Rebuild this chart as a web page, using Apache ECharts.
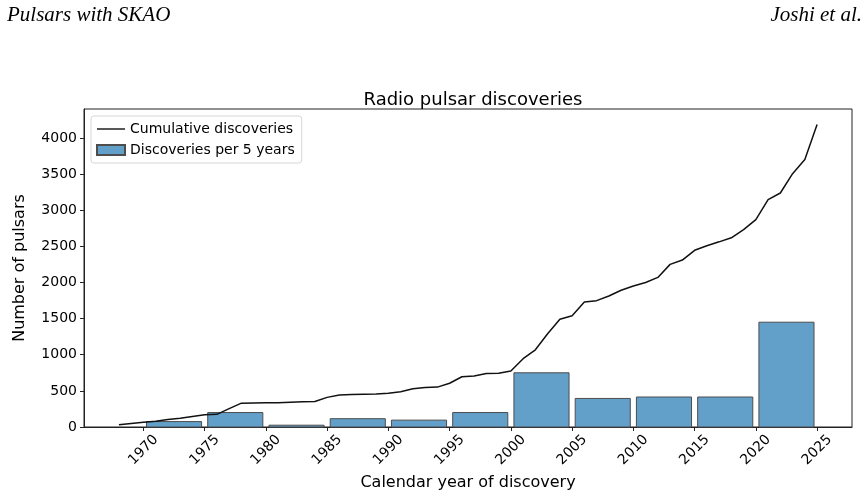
<!DOCTYPE html>
<html>
<head>
<meta charset="utf-8">
<script src="https://cdn.jsdelivr.net/npm/echarts@6/dist/echarts.min.js"></script>
<style>
  html, body { margin: 0; padding: 0; background: #fff; }
  #chart { width: 868px; height: 495px; }
</style>
</head>
<body>
<div id="chart"></div>
<script>
// cumulative discoveries, one point per year
const years = [1968, 1969, 1970, 1971, 1972, 1973, 1974, 1975, 1976, 1977, 1978, 1979,
  1980, 1981, 1982, 1983, 1984, 1985, 1986, 1987, 1988, 1989, 1990, 1991, 1992, 1993,
  1994, 1995, 1996, 1997, 1998, 1999, 2000, 2001, 2002, 2003, 2004, 2005, 2006, 2007,
  2008, 2009, 2010, 2011, 2012, 2013, 2014, 2015, 2016, 2017, 2018, 2019, 2020, 2021,
  2022, 2023, 2024, 2025];
const cumulative = [30, 50, 65, 80, 105, 120, 145, 170, 175, 255, 330, 333,
  335, 337, 343, 348, 352, 410, 442, 450, 454, 458, 466, 488, 530, 545,
  552, 605, 695, 705, 740, 745, 775, 945, 1068, 1290, 1490, 1540, 1730, 1748,
  1812, 1892, 1950, 2000, 2070, 2250, 2310, 2445, 2508, 2562, 2618, 2730, 2870, 3145,
  3238, 3505, 3700, 4185];

// discoveries per 5-year bin (bin start year)
const binStart = [1970, 1975, 1980, 1985, 1990, 1995, 2000, 2005, 2010, 2015, 2020];
const perBin = [75, 200, 25, 115, 95, 200, 750, 395, 415, 415, 1450];

const xTicks = [1970, 1975, 1980, 1985, 1990, 1995, 2000, 2005, 2010, 2015, 2020, 2025];
const yTicks = [0, 500, 1000, 1500, 2000, 2500, 3000, 3500, 4000];

const font = 'DejaVu Sans';
const chart = echarts.init(document.getElementById('chart'));

const barData = binStart.map((s, i) => [s + 0.25, s + 4.75, perBin[i]]);
const lineData = years.map((y, i) => [y, cumulative[i]]);

const option = {
  animation: false,
  textStyle: { fontFamily: font },
  title: {
    text: 'Radio pulsar discoveries',
    left: 468,
    top: 86,
    textAlign: 'center',
    textStyle: { fontFamily: font, fontSize: 18, fontWeight: 'normal', color: '#000' }
  },
  graphic: [
    {
      type: 'text', left: 7, top: 5,
      style: { text: 'Pulsars with SKAO', font: 'italic 21px "Liberation Serif"', fill: '#000' }
    },
    {
      type: 'text', right: 6, top: 5,
      style: { text: 'Joshi et al.', font: 'italic 21px "Liberation Serif"', fill: '#000' }
    }
  ],
  legend: {
    left: 91,
    top: 116,
    orient: 'vertical',
    itemWidth: 28,
    itemHeight: 10,
    itemGap: 7,
    itemTextGap: 12,
    padding: [6, 7, 6, 5],
    backgroundColor: '#fff',
    borderColor: '#d6d6d6',
    borderWidth: 1,
    borderRadius: 3,
    textStyle: { fontFamily: font, fontSize: 14, color: '#000' },
    data: [
      { name: 'Cumulative discoveries', icon: 'path://M0,4.3 H28 V5.7 H0 Z', itemStyle: { color: '#111' } },
      { name: 'Discoveries per 5 years', icon: 'rect' }
    ]
  },
  grid: {
    left: 84,
    right: 16,
    top: 109,
    bottom: 68,
    outerBoundsMode: 'none',
    show: true,
    borderColor: '#222',
    borderWidth: 1
  },
  xAxis: {
    type: 'value',
    min: 1965.15,
    max: 2027.85,
    name: 'Calendar year of discovery',
    nameLocation: 'middle',
    nameGap: 41,
    nameTextStyle: { fontFamily: font, fontSize: 16, color: '#000' },
    splitLine: { show: false },
    axisLine: { show: true, lineStyle: { color: '#222', width: 1 } },
    axisTick: { show: true, length: 4, customValues: xTicks, lineStyle: { color: '#222' } },
    axisLabel: {
      customValues: xTicks,
      formatter: v => String(v),
      rotate: 45,
      align: 'center',
      verticalAlign: 'middle',
      margin: 23,
      fontFamily: font,
      fontSize: 14,
      color: '#000'
    }
  },
  yAxis: {
    type: 'value',
    min: 0,
    max: 4400,
    name: 'Number of pulsars',
    nameLocation: 'middle',
    nameGap: 56,
    nameTextStyle: { fontFamily: font, fontSize: 16, color: '#000' },
    splitLine: { show: false },
    axisLine: { show: true, lineStyle: { color: '#222', width: 1 } },
    axisTick: { show: true, length: 4, customValues: yTicks, lineStyle: { color: '#222' } },
    axisLabel: {
      customValues: yTicks,
      formatter: v => String(v),
      margin: 7,
      fontFamily: font,
      fontSize: 14,
      color: '#000'
    }
  },
  series: [
    {
      name: 'Discoveries per 5 years',
      type: 'custom',
      itemStyle: { color: '#62a0ca', borderColor: '#4d4d4d', borderWidth: 1 },
      encode: { x: [0, 1], y: 2 },
      data: barData,
      renderItem: function (params, api) {
        const p0 = api.coord([api.value(0), 0]);
        const p1 = api.coord([api.value(1), api.value(2)]);
        return {
          type: 'rect',
          shape: { x: p0[0], y: p1[1], width: p1[0] - p0[0], height: p0[1] - p1[1] },
          style: { fill: '#62a0ca', stroke: '#4d4d4d', lineWidth: 1 }
        };
      },
      z: 2
    },
    {
      name: 'Cumulative discoveries',
      type: 'line',
      data: lineData,
      symbol: 'none',
      lineStyle: { color: '#111', width: 1.5 },
      itemStyle: { color: '#111' },
      z: 3
    }
  ]
};

chart.setOption(option);
</script>
</body>
</html>
